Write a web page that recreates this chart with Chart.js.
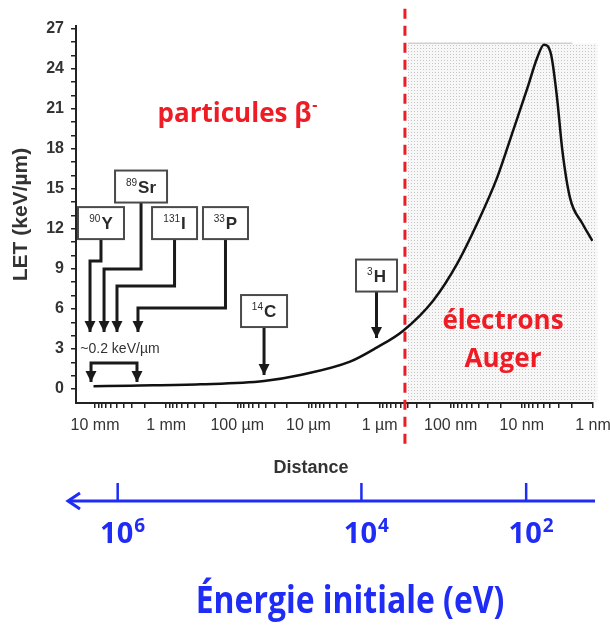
<!DOCTYPE html>
<html>
<head>
<meta charset="utf-8">
<script src="https://cdn.jsdelivr.net/npm/chart.js@4.4.1/dist/chart.umd.min.js"></script>
<style>
html, body { margin: 0; padding: 0; background: #fff; }
#wrap { width: 610px; height: 625px; position: relative; }
</style>
</head>
<body>
<div id="wrap"><canvas id="letChart"></canvas></div>
<script>
// LET curve: distance in nm, LET in keV/µm
const distanceNm = [1.05e7, 3.2e6, 3.3e5, 4.2e4, 1.3e4, 2600, 1100, 470, 178, 81, 42.5, 22.4, 13.2, 8.3, 6.1, 4.9, 3.9, 3.2, 2.7, 2.1, 1.41, 1.02];
const letValues = [0.2, 0.25, 0.35, 0.6, 1.05, 2.05, 3.1, 4.35, 6.6, 9.4, 12.4, 15.8, 19.4, 22.6, 24.8, 25.8, 25.1, 21.8, 17.9, 14.3, 12.4, 11.1];

// axes
const xTickValues = [1e7, 1e6, 1e5, 1e4, 1e3, 100, 10, 1];
const xTickLabels = ['10 mm', '1 mm', '100 µm', '10 µm', '1 µm', '100 nm', '10 nm', '1 nm'];
const yTickValues = [0, 3, 6, 9, 12, 15, 18, 21, 24, 27];

// initial energy axis (eV) and matching electron range (nm)
const energyExponents = ['6', '4', '2'];
const energyRangeNm = [4.8e6, 1.8e3, 8.7];

// isotope call-outs (box centre: log10 nm / LET)
const isotopeMass = ['90', '89', '131', '33', '14', '3'];
const isotopeSymbol = ['Y', 'Sr', 'I', 'P', 'C', 'H'];
const isotopeBoxLog = [6.916, 6.353, 5.882, 5.166, 4.624, 3.043];
const isotopeBoxLet = [12.43, 15.17, 12.43, 12.43, 5.84, 8.50];
const isotopeBoxW = [46, 52, 45, 45, 46, 41];
const isotopeArrows = [
  [[6.916, 11.24], [6.916, 9.59], [7.070, 9.59], [7.070, 4.27]],
  [[6.353, 14.0], [6.353, 8.99], [6.873, 8.99], [6.873, 4.27]],
  [[5.882, 11.24], [5.882, 7.72], [6.691, 7.72], [6.691, 4.27]],
  [[5.166, 11.24], [5.166, 6.07], [6.396, 6.07], [6.396, 4.27]],
  [[4.624, 4.64], [4.624, 1.05]],
  [[3.043, 7.27], [3.043, 3.82]]
];
const bracketPath = [[7.056, 0.52], [7.056, 1.95], [6.410, 1.95], [6.410, 0.52]];

// Auger zone
const augerZoneNm = [398, 0.87];
const augerTopLet = 25.9;
const cutoffNm = 440;

const RED = '#ee1c25';
const BLUE = '#1f2cf5';

function head(ctx, x, y) {
  ctx.beginPath();
  ctx.moveTo(x, y);
  ctx.lineTo(x - 5.5, y - 11);
  ctx.lineTo(x + 5.5, y - 11);
  ctx.closePath();
  ctx.fill();
}

const overlay = {
  id: 'overlay',
  beforeDatasetsDraw(chart) {
    const { ctx, scales: { x, y } } = chart;
    const tile = document.createElement('canvas');
    tile.width = 3; tile.height = 3;
    const t = tile.getContext('2d');
    t.fillStyle = '#f7f7f7'; t.fillRect(0, 0, 3, 3);
    t.fillStyle = '#c6c6c6'; t.fillRect(0, 0, 1, 1);
    const left = x.getPixelForValue(augerZoneNm[0]);
    const right = x.getPixelForValue(augerZoneNm[1]);
    const top = y.getPixelForValue(augerTopLet);
    const bottom = y.getPixelForValue(y.min) - 1;
    ctx.save();
    ctx.fillStyle = ctx.createPattern(tile, 'repeat');
    ctx.fillRect(left, top, right - left, bottom - top);
    ctx.strokeStyle = '#d0d0d0'; ctx.lineWidth = 1.5;
    ctx.beginPath(); ctx.moveTo(left, top); ctx.lineTo(right - 25, top); ctx.stroke();
    ctx.restore();
  },
  afterDatasetsDraw(chart) {
    const { ctx, scales: { x, y } } = chart;
    const X = v => x.getPixelForValue(Math.pow(10, v));
    const Y = v => y.getPixelForValue(v);
    ctx.save();

    // arrows
    ctx.strokeStyle = '#1a1a1a'; ctx.fillStyle = '#1a1a1a';
    ctx.lineWidth = 3; ctx.lineJoin = 'miter';
    isotopeArrows.forEach(path => {
      ctx.beginPath();
      path.forEach((p, i) => i ? ctx.lineTo(X(p[0]), Y(p[1])) : ctx.moveTo(X(p[0]), Y(p[1])));
      ctx.stroke();
      const tip = path[path.length - 1];
      head(ctx, X(tip[0]), Y(tip[1]));
    });
    ctx.beginPath();
    bracketPath.forEach((p, i) => i ? ctx.lineTo(X(p[0]), Y(p[1])) : ctx.moveTo(X(p[0]), Y(p[1])));
    ctx.stroke();
    head(ctx, X(bracketPath[0][0]), Y(bracketPath[0][1]));
    head(ctx, X(bracketPath[3][0]), Y(bracketPath[3][1]));

    ctx.font = '14px "Liberation Sans", Arial, sans-serif';
    ctx.fillStyle = '#333'; ctx.textAlign = 'center'; ctx.textBaseline = 'middle';
    ctx.fillText('~0.2 keV/µm', X(6.649), Y(3.0));

    // isotope boxes
    isotopeSymbol.forEach((sym, i) => {
      const cx = X(isotopeBoxLog[i]), cy = Y(isotopeBoxLet[i]);
      const w = isotopeBoxW[i], h = 32;
      ctx.fillStyle = '#fff';
      ctx.fillRect(cx - w / 2, cy - h / 2, w, h);
      ctx.strokeStyle = '#4a4a4a'; ctx.lineWidth = 2;
      ctx.strokeRect(cx - w / 2, cy - h / 2, w, h);
      ctx.fillStyle = '#2a2a2a';
      ctx.textAlign = 'left'; ctx.textBaseline = 'alphabetic';
      ctx.font = '10px "Liberation Sans", Arial, sans-serif';
      const mw = ctx.measureText(isotopeMass[i]).width;
      ctx.font = 'bold 17px "Liberation Sans", Arial, sans-serif';
      const sw = ctx.measureText(sym).width;
      const x0 = cx - (mw + sw + 1) / 2;
      ctx.fillText(sym, x0 + mw + 1, cy + 6);
      ctx.font = '10px "Liberation Sans", Arial, sans-serif';
      ctx.fillText(isotopeMass[i], x0, cy - 1);
    });

    // region labels
    ctx.fillStyle = RED;
    ctx.textBaseline = 'alphabetic'; ctx.textAlign = 'center';
    ctx.font = 'bold 26px "Open Sans", sans-serif';
    ctx.fillText('particules β', X(5.04), Y(20.0));
    const pw = ctx.measureText('particules β').width;
    ctx.font = 'bold 16px "Open Sans", sans-serif';
    ctx.textAlign = 'left';
    ctx.fillText('-', X(5.04) + pw / 2 + 1, Y(20.0) - 12);
    ctx.textAlign = 'center';
    ctx.font = 'bold 26px "Open Sans", sans-serif';
    ctx.fillText('électrons', X(1.265), Y(4.49));
    ctx.fillText('Auger', X(1.265), Y(1.65));

    // cut-off
    ctx.strokeStyle = RED; ctx.lineWidth = 3; ctx.setLineDash([10, 7]);
    ctx.beginPath();
    ctx.moveTo(x.getPixelForValue(cutoffNm), Y(28.5));
    ctx.lineTo(x.getPixelForValue(cutoffNm), Y(-4.2));
    ctx.stroke();
    ctx.setLineDash([]);
    ctx.restore();
  },
  afterDraw(chart) {
    const { ctx, scales: { x } } = chart;
    ctx.save();
    ctx.fillStyle = '#333';
    ctx.font = 'bold 18px "Liberation Sans", Arial, sans-serif';
    ctx.textAlign = 'center'; ctx.textBaseline = 'middle';
    ctx.fillText('Distance', x.getPixelForValue(Math.pow(10, 3.964)), 468);

    // energy axis
    const ay = 501;
    ctx.strokeStyle = BLUE; ctx.fillStyle = BLUE; ctx.lineWidth = 3;
    ctx.beginPath(); ctx.moveTo(68, ay); ctx.lineTo(595, ay); ctx.stroke();
    ctx.beginPath(); ctx.moveTo(80, ay - 8); ctx.lineTo(68, ay); ctx.lineTo(80, ay + 8); ctx.stroke();
    ctx.lineWidth = 2.5;
    energyRangeNm.forEach((r, i) => {
      const px = x.getPixelForValue(r);
      ctx.beginPath(); ctx.moveTo(px, ay - 18); ctx.lineTo(px, ay); ctx.stroke();
      ctx.textBaseline = 'alphabetic'; ctx.textAlign = 'center';
      ctx.font = 'bold 29px "Open Sans", sans-serif';
      ctx.fillText('10', px - 1, 543);
      const tw = ctx.measureText('10').width;
      ctx.textAlign = 'left';
      ctx.font = 'bold 19px "Open Sans", sans-serif';
      ctx.fillText(energyExponents[i], px - 1 + tw / 2 + 1, 532);
    });
    ctx.textAlign = 'center';
    ctx.translate(350, 613);
    ctx.scale(0.84, 1);
    ctx.font = 'bold 38px "Open Sans", sans-serif';
    ctx.fillText('Énergie initiale (eV)', 0, 0);
    ctx.restore();
  }
};

const ctx = document.getElementById('letChart').getContext('2d');
new Chart(ctx, {
  type: 'line',
  data: {
    datasets: [{
      data: distanceNm.map((d, i) => ({ x: d, y: letValues[i] })),
      borderColor: '#111',
      borderWidth: 2.5,
      pointRadius: 0,
      fill: false,
      cubicInterpolationMode: 'monotone'
    }]
  },
  options: {
    responsive: true,
    maintainAspectRatio: false,
    animation: false,
    events: [],
    layout: { padding: { top: 26, right: 17, left: 0, bottom: 0 } },
    plugins: { legend: { display: false }, tooltip: { enabled: false } },
    scales: {
      x: {
        type: 'logarithmic',
        reverse: true,
        min: 1,
        max: 1.85e7,
        bounds: 'data',
        afterBuildTicks: s => {
          const t = [];
          xTickValues.forEach(m => {
            t.push({ value: m });
            for (let k = 2; k <= 9; k++) if (m * k <= 1.85e7) t.push({ value: m * k });
          });
          s.ticks = t.sort((a, b) => a.value - b.value);
        },
        afterFit: s => { s.height = 222; },
        ticks: {
          autoSkip: false, maxRotation: 0, padding: 8,
          color: '#333',
          font: { family: '"Liberation Sans", Arial, sans-serif', size: 16 },
          callback: v => { const i = xTickValues.indexOf(v); return i >= 0 ? xTickLabels[i] : ''; }
        },
        grid: { drawOnChartArea: false, tickLength: 5, color: '#222', lineWidth: 1.5 },
        border: { display: true, color: '#222', width: 2 }
      },
      y: {
        min: -1.05,
        max: 27.2,
        afterBuildTicks: s => {
          const t = [];
          for (let v = 0; v <= 27; v++) t.push({ value: v });
          s.ticks = t;
        },
        afterFit: s => { s.width = 76; },
        ticks: {
          autoSkip: false,
          padding: 7,
          color: '#333',
          font: { family: '"Liberation Sans", Arial, sans-serif', size: 16, weight: 'bold' },
          callback: v => yTickValues.includes(v) ? String(v) : ''
        },
        grid: { drawOnChartArea: false, tickLength: 5, color: '#222', lineWidth: 1.5 },
        border: { display: true, color: '#222', width: 2 },
        title: {
          display: true,
          text: 'LET (keV/µm)',
          color: '#333',
          font: { family: '"Liberation Sans", Arial, sans-serif', size: 21, weight: 'bold' },
          padding: { top: 9, bottom: 0 }
        }
      }
    }
  },
  plugins: [overlay]
});
</script>
</body>
</html>
